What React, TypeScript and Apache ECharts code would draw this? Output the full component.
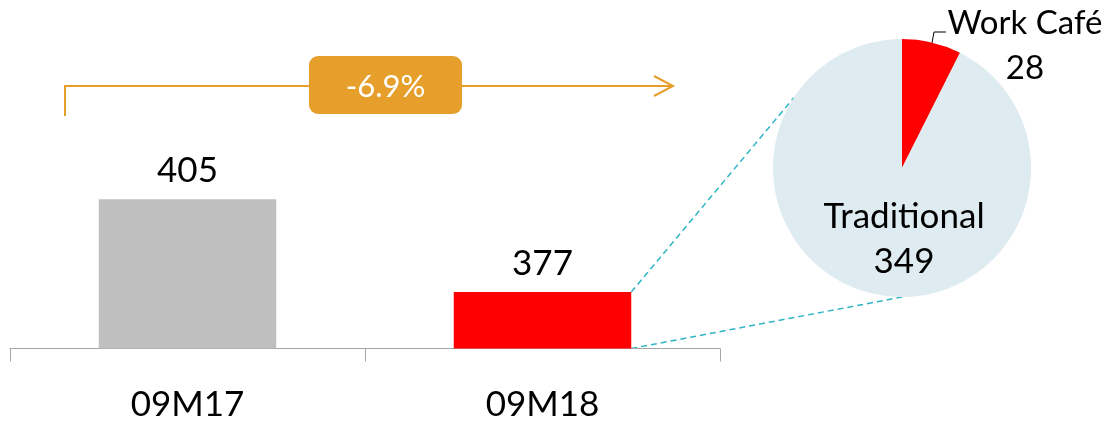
import React, { useEffect, useRef } from "react";
import * as echarts from "echarts";

const categories = ["09M17", "09M18"];
const totals = [405, 377];
const barColors = ["#BFBFBF", "#FF0000"];
const splitNames = ["Work Café", "Traditional"];
const splitValues = [28, 349];
const splitColors = ["#FF0000", "#DEEBF1"];

const FONT = "Lato, 'Open Sans', sans-serif";
const ORANGE = "#E69F2A";
const TEAL = "#2EB5C4";
const PIE_CENTER = [902, 168];
const PIE_R = 129;

export default function App() {
  const ref = useRef<HTMLDivElement>(null);
  useEffect(() => {
    if (!ref.current) return;
    const chart = echarts.init(ref.current, null, { renderer: "svg" });
    const change = ((totals[1] / totals[0] - 1) * 100).toFixed(1) + "%";
    chart.setOption({
      animation: false,
      grid: { left: 10, right: 386, top: 50, bottom: 74.5, containLabel: false },
      xAxis: {
        type: "category",
        data: categories,
        axisLine: { show: true, lineStyle: { color: "#A6A6A6", width: 1 } },
        axisTick: { show: true, alignWithLabel: false, length: 13, lineStyle: { color: "#A6A6A6", width: 1 } },
        axisLabel: { color: "#000", fontSize: 35, fontFamily: FONT, margin: 36 },
      },
      yAxis: { type: "value", min: 360, max: 450, show: false, splitLine: { show: false } },
      series: [
        {
          type: "bar",
          barWidth: "50%",
          silent: true,
          data: totals.map((v, i) => ({ value: v, itemStyle: { color: barColors[i] } })),
          label: {
            show: true,
            position: "top",
            distance: 14,
            color: "#000",
            fontSize: 35,
            fontFamily: FONT,
          },
        },
        {
          type: "pie",
          center: PIE_CENTER,
          radius: PIE_R,
          startAngle: 90,
          clockwise: true,
          silent: true,
          data: splitNames.map((n, i) => ({
            name: n,
            value: splitValues[i],
            itemStyle: { color: splitColors[i] },
            label: i === 1 ? { position: "inside" } : { position: "outside", fontSize: 33 },
            labelLine: { show: i === 0 },
          })),
          label: {
            show: true,
            position: "outside",
            formatter: "{b}\n{c}",
            color: "#000",
            fontSize: 35,
            lineHeight: 45,
            fontFamily: FONT,
            align: "center",
            overflow: "none",
            bleedMargin: 0,
            edgeDistance: 0,
          },
          labelLine: { show: true, lineStyle: { color: "#000", width: 1 } },
          labelLayout: (p: any) => {
            if (p.dataIndex === 0) {
              return {
                x: 1025,
                y: 43,
                width: 200,
                align: "center",
                verticalAlign: "middle",
                labelLinePoints: [
                  [932, 43],
                  [934, 32],
                  [946, 32],
                ],
              };
            }
            return { x: 904, y: 236, align: "center", verticalAlign: "middle" };
          },
        },
      ],
    });

    const p0 = chart.convertToPixel({ xAxisIndex: 0, yAxisIndex: 0 }, [0, totals[1]]) as number[];
    const p1 = chart.convertToPixel({ xAxisIndex: 0, yAxisIndex: 0 }, [1, totals[1]]) as number[];
    const base = chart.convertToPixel({ xAxisIndex: 0, yAxisIndex: 0 }, [1, 360]) as number[];
    const band = p1[0] - p0[0];
    const barRight = p1[0] + band * 0.25;
    const a1 = (-147 * Math.PI) / 180;
    const a2 = (90 * Math.PI) / 180;
    const e1 = [PIE_CENTER[0] + PIE_R * Math.cos(a1), PIE_CENTER[1] + PIE_R * Math.sin(a1)];
    const e2 = [PIE_CENTER[0] + PIE_R * Math.cos(a2), PIE_CENTER[1] + PIE_R * Math.sin(a2)];
    const dash = { stroke: TEAL, lineWidth: 1.5, lineDash: [6, 4] };

    chart.setOption({
      graphic: [
        {
          type: "line",
          silent: true,
          shape: { x1: barRight, y1: p1[1], x2: e1[0], y2: e1[1] },
          style: dash,
        },
        {
          type: "line",
          silent: true,
          shape: { x1: barRight, y1: base[1], x2: e2[0], y2: e2[1] },
          style: dash,
        },
        {
          type: "polyline",
          silent: true,
          shape: { points: [[65, 116], [65, 86], [672, 86]] },
          style: { stroke: ORANGE, lineWidth: 2, fill: null },
        },
        {
          type: "polyline",
          silent: true,
          shape: { points: [[654, 76], [673, 86], [654, 96]] },
          style: { stroke: ORANGE, lineWidth: 2, fill: null },
        },
        {
          type: "rect",
          silent: true,
          shape: { x: 309, y: 56, width: 153, height: 58, r: 9 },
          style: { fill: ORANGE },
        },
        {
          type: "text",
          silent: true,
          x: 385.5,
          y: 85,
          style: {
            text: change,
            fill: "#fff",
            font: `31px ${FONT}`,
            align: "center",
            verticalAlign: "middle",
          },
        },
      ],
    });
    return () => chart.dispose();
  }, []);
  return (
    <div
      ref={ref}
      style={{ position: "fixed", left: 0, top: 0, width: 1106, height: 423 }}
    />
  );
}
